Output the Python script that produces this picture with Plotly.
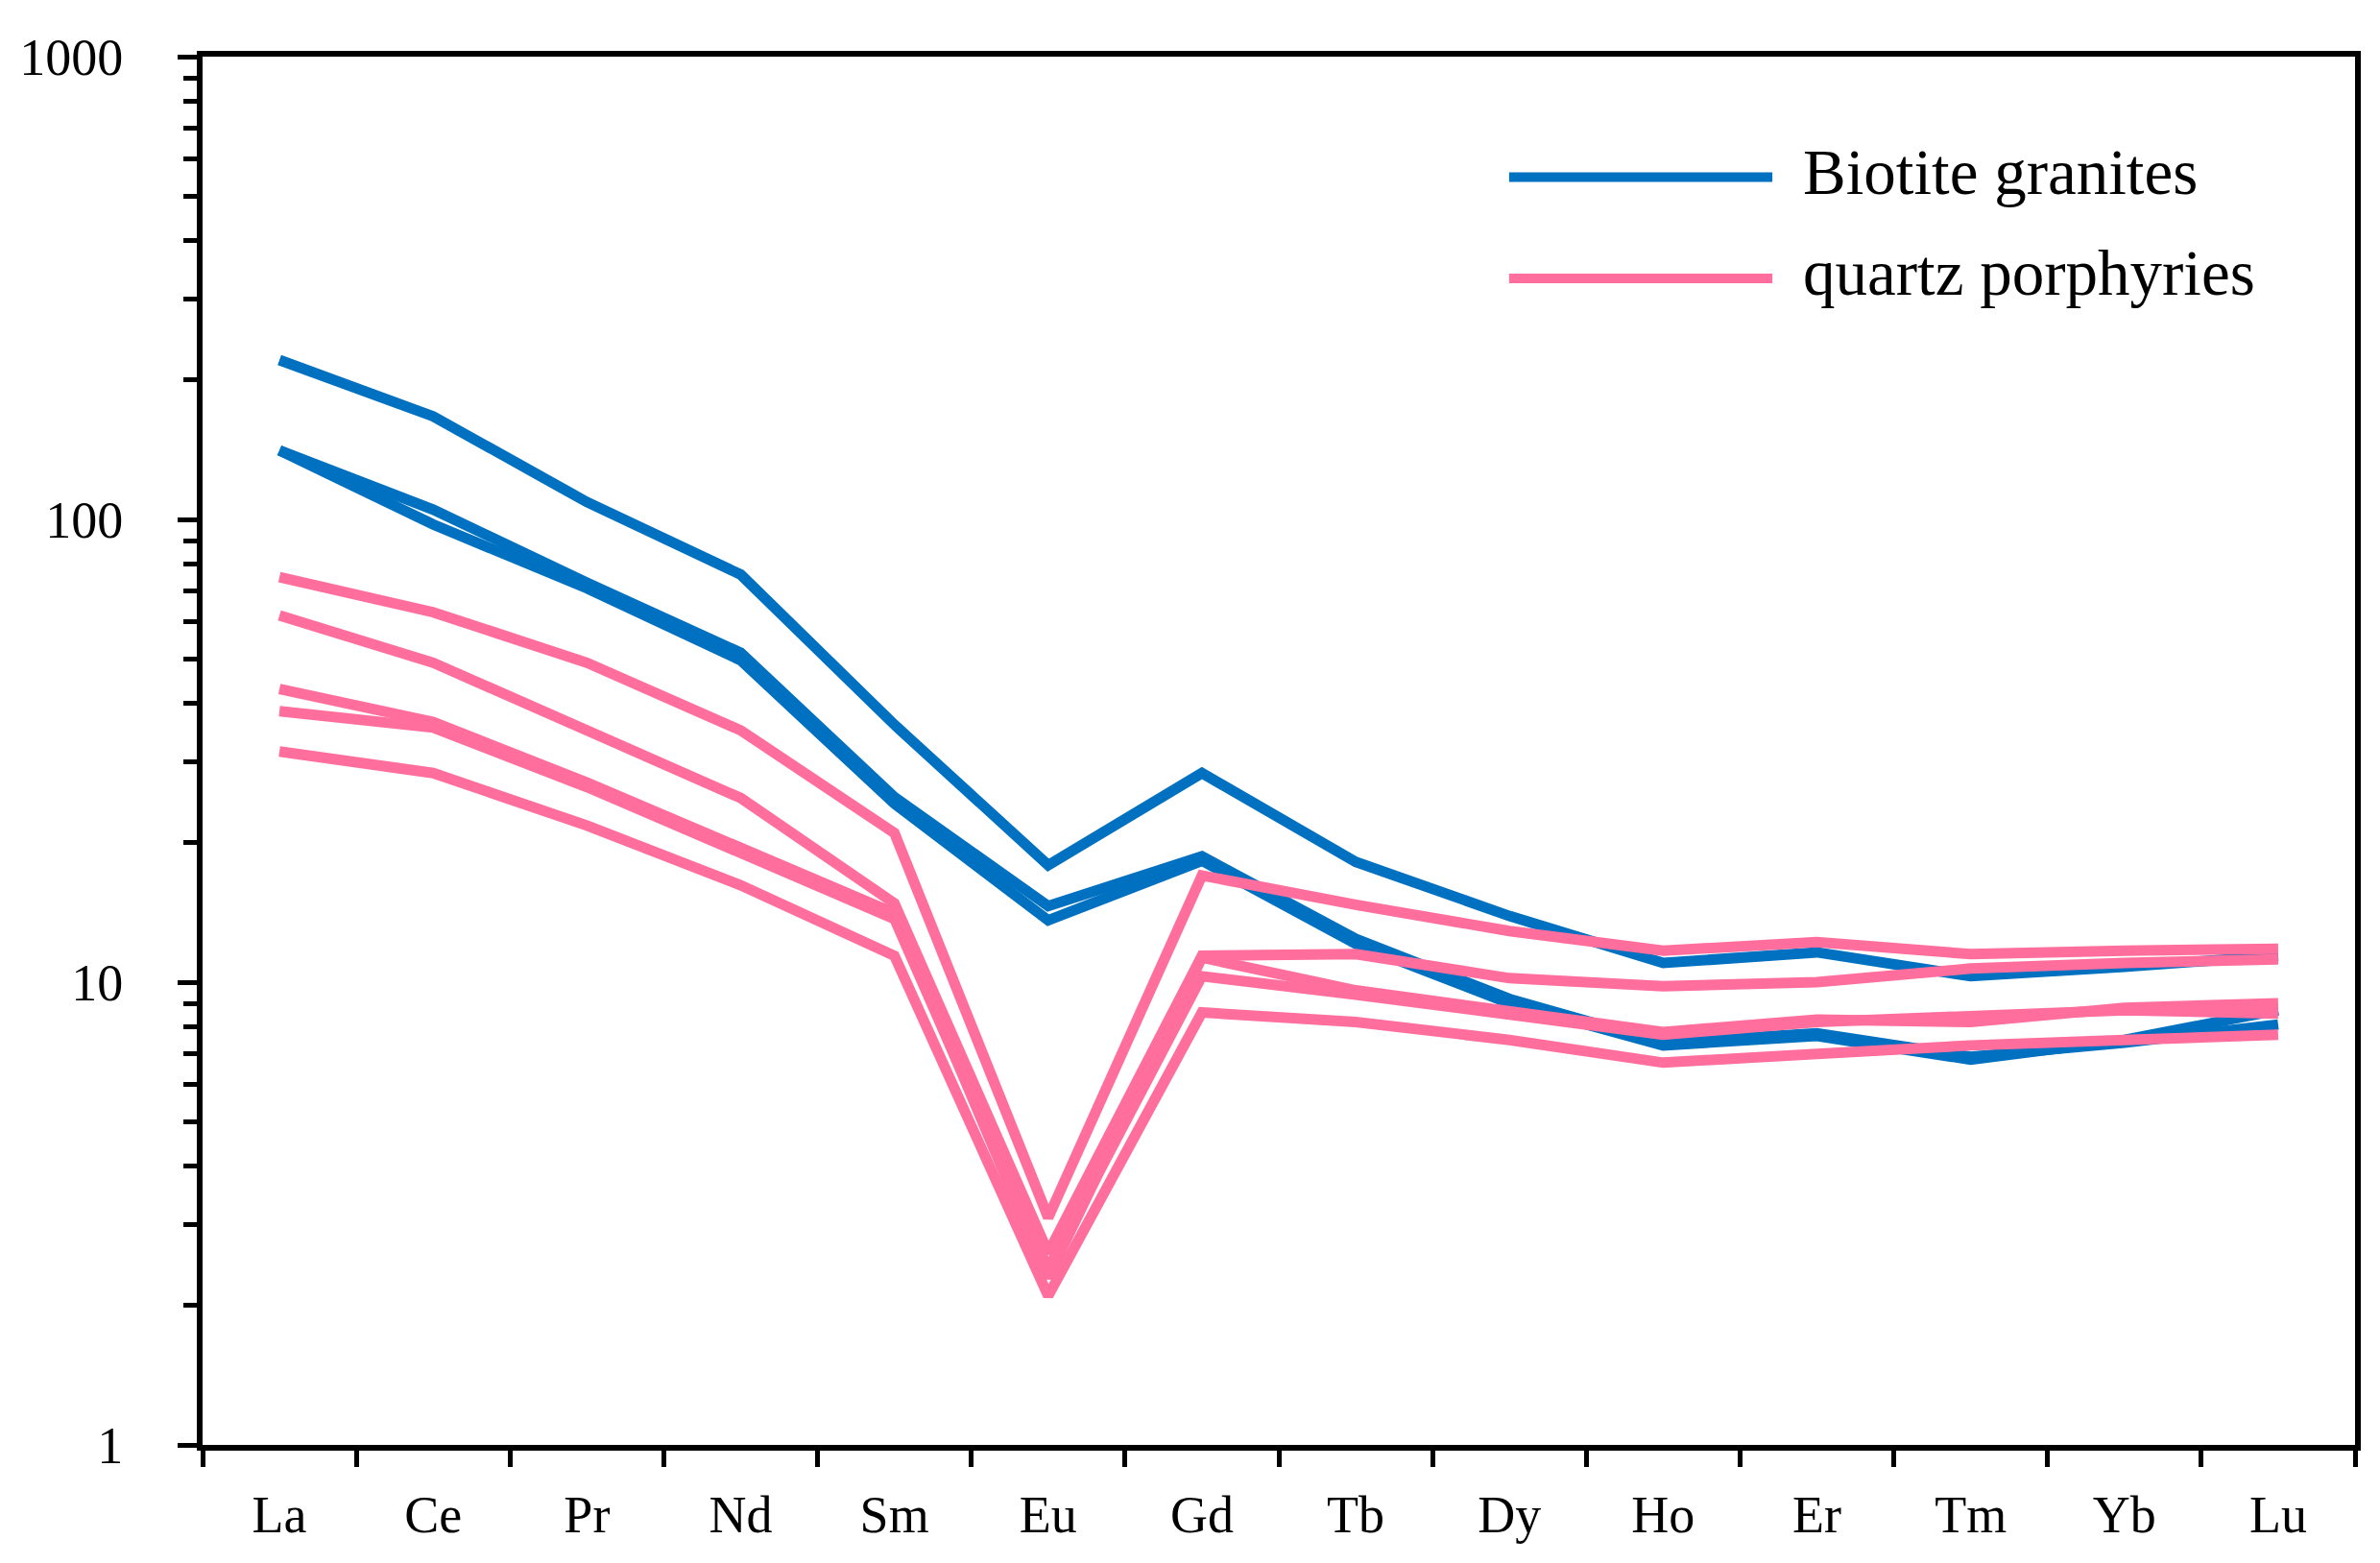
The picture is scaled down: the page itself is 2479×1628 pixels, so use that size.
import plotly.graph_objects as go

# ---------------- data ----------------
elements = ["La", "Ce", "Pr", "Nd", "Sm", "Eu", "Gd", "Tb", "Dy", "Ho", "Er", "Tm", "Yb", "Lu"]

biotite_1 = [221, 167, 109, 76, 36, 17.9, 28.3, 18.2, 13.9, 11.0, 11.6, 10.3, 10.8, 11.4]
biotite_2 = [141, 105, 73, 51.5, 25.1, 14.6, 18.7, 12.4, 9.2, 7.4, 7.75, 6.9, 7.4, 8.1]
biotite_3 = [141, 97.5, 71, 49.6, 24.3, 13.6, 18.3, 12.1, 9.0, 7.3, 7.65, 6.8, 7.5, 8.7]

quartz_1 = [75, 63, 49, 35, 21, 3.1, 17, 14.7, 12.9, 11.7, 12.2, 11.5, 11.7, 11.8]
quartz_2 = [62, 49, 35, 25, 14.8, 2.6, 11.4, 11.5, 10.2, 9.8, 10.0, 10.7, 11.0, 11.2]
quartz_3 = [43, 36.5, 27, 19.4, 14.1, 2.3, 11.3, 9.6, 8.6, 7.8, 8.3, 8.2, 8.8, 9.0]
quartz_4 = [38.5, 35.5, 26.4, 18.9, 13.7, 2.4, 10.3, 9.4, 8.5, 7.7, 8.2, 8.4, 8.7, 8.55]
quartz_5 = [31.5, 28.3, 21.8, 16.2, 11.4, 2.1, 8.6, 8.2, 7.5, 6.7, 7.0, 7.3, 7.5, 7.7]

biotite_series = [biotite_1, biotite_2, biotite_3]
quartz_series = [quartz_1, quartz_2, quartz_3, quartz_4, quartz_5]

legend_labels = ["Biotite granites", "quartz porphyries"]
y_major = [1, 10, 100, 1000]
y_major_text = ["1", "10", "100", "1000"]
y_minor = [m * d for d in (1, 10, 100) for m in range(2, 10)]

# ---------------- style ----------------
BLUE = "#0070C0"
PINK = "#FF6E9D"
FONT = "Liberation Serif"
LW = 11

fig = go.Figure()
for s in biotite_series:
    fig.add_trace(go.Scatter(x=elements, y=s, mode="lines",
                             line=dict(color=BLUE, width=LW), showlegend=False))
for s in quartz_series:
    fig.add_trace(go.Scatter(x=elements, y=s, mode="lines",
                             line=dict(color=PINK, width=LW), showlegend=False))

# manual legend (long key lines)
for (c, yy, lab) in [(BLUE, 0.9132, legend_labels[0]), (PINK, 0.8402, legend_labels[1])]:
    fig.add_shape(type="line", xref="paper", yref="paper",
                  x0=0.607, x1=0.7293, y0=yy, y1=yy,
                  line=dict(color=c, width=10))
    fig.add_annotation(xref="paper", yref="paper", x=0.7425, y=yy + 0.004,
                       xanchor="left", yanchor="middle", text=lab, showarrow=False,
                       font=dict(family=FONT, size=67, color="black"))

# page body has an 8px margin: size and margins compensate for it
fig.update_layout(
    width=2463, height=1612,
    margin=dict(l=188, r=18, t=51, b=109),
    paper_bgcolor="white", plot_bgcolor="white",
    font=dict(family=FONT, size=54, color="black"),
    showlegend=False,
)
fig.update_xaxes(
    type="category", range=[-0.5, 13.5],
    showline=True, linecolor="black", linewidth=6, mirror=True,
    ticks="outside", tickson="boundaries", ticklen=17, tickwidth=5, tickcolor="black",
    showgrid=False, zeroline=False,
    tickfont=dict(family=FONT, size=54, color="black"),
    ticklabelstandoff=20,
)
fig.update_yaxes(
    type="log", range=[0, 3],
    tickmode="array", tickvals=y_major, ticktext=y_major_text,
    showline=True, linecolor="black", linewidth=6, mirror=True,
    ticks="outside", ticklen=20, tickwidth=5, tickcolor="black",
    minor=dict(tickmode="array", tickvals=y_minor, ticks="outside", ticklen=14,
               tickwidth=5, tickcolor="black", showgrid=False),
    showgrid=False, zeroline=False,
    tickfont=dict(family=FONT, size=54, color="black"),
    ticklabelstandoff=46,
)

fig.write_html("out.html")
